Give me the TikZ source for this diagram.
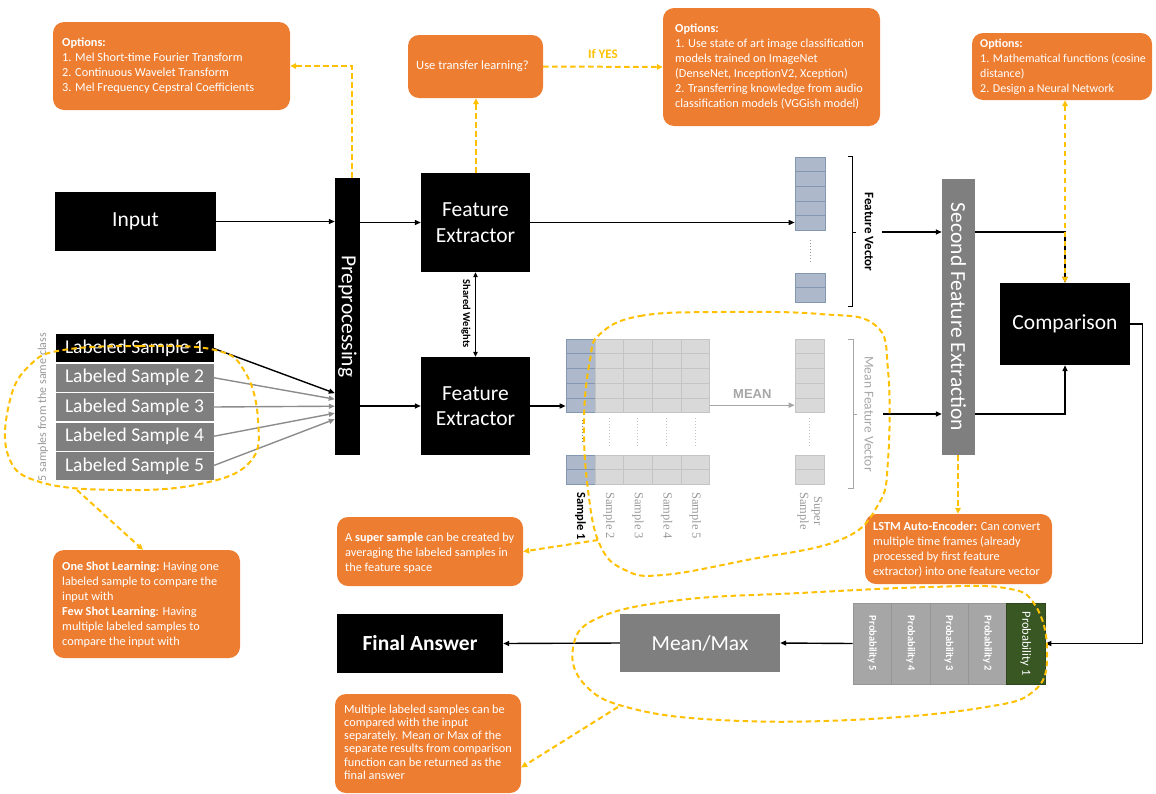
\documentclass[tikz,border=0pt]{standalone}
\usepackage{fontspec}
\setmainfont{Carlito}
\newfontfamily\serifsample{Liberation Serif}
\newfontfamily\arialfont{Liberation Sans}
\usetikzlibrary{arrows.meta,calc}
\definecolor{orng}{HTML}{ED7D31}
\definecolor{yel}{HTML}{FFC000}
\definecolor{dgray}{HTML}{7F7F7F}
\definecolor{bcell}{HTML}{ADB9CA}
\definecolor{bcelld}{HTML}{8497B0}
\definecolor{lcell}{HTML}{D9D9D9}
\definecolor{lcelld}{HTML}{C4C4C4}
\definecolor{pgray}{HTML}{A6A6A6}
\definecolor{pgrayd}{HTML}{969696}
\definecolor{dgreen}{HTML}{385723}
\definecolor{sgray}{HTML}{999999}
\definecolor{agray}{HTML}{8C8C8C}
\begin{document}
\begin{tikzpicture}[x=1pt,y=-1pt,
  obox/.style={fill=orng, rounded corners=11pt, inner sep=0pt, draw=none},
  otext/.style={text=white, align=left, inner sep=0pt, anchor=west, font=\fontsize{12.3}{15}\selectfont},
  bbox/.style={fill=black, text=white, inner sep=0pt, align=center, font=\fontsize{21.5}{25.5}\selectfont},
  gbox/.style={bbox, fill=dgray},
  bigtext/.style={text=white, inner sep=0pt, font=\fontsize{21.5}{25.5}\selectfont},
  arr/.style={-{Triangle[length=6pt,width=5pt]}, line width=1.4pt},
  garr/.style={arr, draw=agray},
  ydash/.style={draw=yel, line width=2pt, dash pattern=on 5.5pt off 3.5pt},
  yarr/.style={-{Triangle[length=6pt,width=5.5pt]}},
  cellb/.style={fill=bcell, draw=bcelld, line width=0.6pt, minimum width=29pt, minimum height=14.7pt, inner sep=0pt},
  celll/.style={fill=lcell, draw=lcelld, line width=0.6pt, minimum width=28.7pt, minimum height=14.7pt, inner sep=0pt},
  lsbox/.style={fill=dgray, draw=white, line width=1pt, text=white, minimum width=159pt, minimum height=29pt, inner sep=0pt, font=\fontsize{19.5}{22}\selectfont},
  pcell/.style={fill=pgray, draw=pgrayd, line width=0.6pt, minimum width=38.4pt, minimum height=81pt, inner sep=0pt},
  ptext/.style={rotate=-90, text=white, inner sep=0pt, font=\bfseries\fontsize{10.5}{12}\selectfont},
  slab/.style={rotate=-90, anchor=west, inner sep=0pt, text=sgray, font=\serifsample\fontsize{12.5}{14}\selectfont},
]
\useasboundingbox (0,0) rectangle (1156,793);

% ---------- orange boxes ----------
\node[obox, minimum width=237pt, minimum height=88pt] (opt1) at (171.5,66) {};
\node[otext] (opt1t) at (62,66) {\textbf{Options:}\\1. Mel Short-time Fourier Transform\\2. Continuous Wavelet Transform\\3. Mel Frequency Cepstral Coefficients};

\node[obox, minimum width=135pt, minimum height=63pt] (tl) at (475.5,66.5) {};
\node[otext, font=\fontsize{12.6}{15}\selectfont] (tlt) at (416,66.5) {Use transfer learning?};

\node[obox, minimum width=217pt, minimum height=118pt] (opt2) at (771.5,67) {};
\node[otext] (opt2t) at (675,67) {\textbf{Options:}\\1. Use state of art image classification\\models trained on ImageNet\\(DenseNet, InceptionV2, Xception)\\2. Transferring knowledge from audio\\classification models (VGGish model)};

\node[obox, minimum width=180pt, minimum height=67pt] (opt3) at (1062,66.5) {};
\node[otext, font=\fontsize{12}{15}\selectfont] (opt3t) at (980,66.5) {\textbf{Options:}\\1. Mathematical functions (cosine\\distance)\\2. Design a Neural Network};

\node[obox, minimum width=187pt, minimum height=108pt] (osl) at (146.5,604) {};
\node[otext] (oslt) at (62,605) {\textbf{One Shot Learning:} Having one\\labeled sample to compare the\\input with\\\textbf{Few Shot Learning}: Having\\multiple labeled samples to\\compare the input with};

\node[obox, minimum width=186pt, minimum height=69pt] (sup) at (430,551.5) {};
\node[otext] (supt) at (345,553) {A \textbf{super sample} can be created by\\averaging the labeled samples in\\the feature space};

\node[obox, minimum width=187pt, minimum height=70pt] (lstm) at (958.5,549) {};
\node[otext] (lstmt) at (873,550) {\textbf{LSTM Auto-Encoder:} Can convert\\multiple time frames (already\\processed by first feature\\extractor) into one feature vector};

\node[obox, minimum width=186pt, minimum height=99pt] (multi) at (428,743.5) {};
\node[otext, font=\fontsize{12.3}{13.2}\selectfont] (multit) at (344,742) {Multiple labeled samples can be\\compared with the input\\separately. Mean or Max of the\\separate results from comparison\\function can be returned as the\\final answer};

% ---------- main blocks ----------
\node[bbox, minimum width=161pt, minimum height=59pt] (inp) at (135.5,221.5) {Input};
\node[bbox, minimum width=25pt, minimum height=277pt] (pre) at (347.5,316.5) {};
\node[bigtext, rotate=-90] (pret) at (pre) {Preprocessing};
\node[bbox, minimum width=109pt, minimum height=99pt] (fe1) at (475.5,222.5) {Feature\\Extractor};
\node[bbox, minimum width=109pt, minimum height=98pt] (fe2) at (475.5,406) {Feature\\Extractor};
\node[gbox, minimum width=33pt, minimum height=276pt] (sfe) at (958.5,317) {};
\node[bigtext, rotate=-90] (sfet) at (sfe) {Second Feature Extraction};
\node[bbox, minimum width=130pt, minimum height=82pt] (cmp) at (1065,324) {Comparison};
\node[gbox, minimum width=160pt, minimum height=58pt] (mm) at (700,643) {Mean/Max};
\node[bbox, minimum width=166pt, minimum height=59pt, font=\bfseries\fontsize{21.5}{25.5}\selectfont] (fa) at (420,643.5) {Final Answer};

% labeled samples
\node[lsbox, fill=black] (ls1) at (134.5,348) {Labeled Sample 1};
\node[lsbox] (ls2) at (134.5,377.5) {Labeled Sample 2};
\node[lsbox] (ls3) at (134.5,407) {Labeled Sample 3};
\node[lsbox] (ls4) at (134.5,436.5) {Labeled Sample 4};
\node[lsbox] (ls5) at (134.5,466) {Labeled Sample 5};
\node[rotate=90, text=sgray, inner sep=0pt, font=\fontsize{12}{14}\selectfont] (fivel) at (43,407) {5 samples from the same class};

% feature vector (top)
\foreach \r/\y in {1/164.3,2/178.9,3/193.5,4/208.1,5/222.7,6/280.3,7/294.9}
  \node[cellb, minimum width=30pt, minimum height=14.6pt] (fv-\r) at (810,\y) {};
\draw[dotted, line width=1pt, draw=sgray] (810,240) -- (810,262);
\draw[line width=1pt] (848,156) -- (852,156) -- (852,306) -- (848,306);
\draw[line width=1pt] (852,232) -- (856,232);
\node[rotate=-90, inner sep=0pt, font=\bfseries\fontsize{13}{15}\selectfont] (fvl) at (869,232) {Feature Vector};

% sample matrix
\foreach \r/\y in {1/346.4,2/361.1,3/375.8,4/390.5,5/405.2,6/462.3,7/477.0} {
  \node[cellb] (m1-\r) at (580.5,\y) {};
  \foreach \c/\x in {2/609.2,3/637.9,4/666.6,5/695.3}
    \node[celll] (m\c-\r) at (\x,\y) {};
  \node[celll, minimum width=29pt] (ss-\r) at (809.5,\y) {};
}
\foreach \x in {609.2,637.9,666.6,695.3,809.5}
  \draw[dotted, line width=1pt, draw=lcelld] (\x,418) -- (\x,447);
\draw[dotted, line width=1pt, draw=dgray] (582,420) -- (582,443);
\draw[line width=1pt, draw=pgray] (848,339) -- (853,339) -- (853,488) -- (848,488);
\draw[line width=1pt, draw=pgray] (853,414) -- (857,414);
\node[rotate=-90, inner sep=0pt, text=pgray, font=\fontsize{13.5}{15}\selectfont] (mfvl) at (869,414) {Mean Feature Vector};

\node[slab, text=black, font=\bfseries\fontsize{12.5}{14}\selectfont] (sl1) at (580.5,492) {Sample 1};
\node[slab] (sl2) at (609.2,492) {Sample 2};
\node[slab] (sl3) at (637.9,492) {Sample 3};
\node[slab] (sl4) at (666.6,492) {Sample 4};
\node[slab] (sl5) at (695.3,492) {Sample 5};
\node[slab, align=center] (sls) at (810,492) {Super\\Sample};

% probabilities
\node[pcell] (p5) at (872.2,643.5) {};
\node[pcell] (p4) at (910.6,643.5) {};
\node[pcell] (p3) at (949.0,643.5) {};
\node[pcell] (p2) at (987.4,643.5) {};
\node[pcell, fill=dgreen, draw=dgreen!80!black] (p1) at (1025.8,643.5) {};
\node[ptext] (p5t) at (p5) {Probability 5};
\node[ptext] (p4t) at (p4) {Probability 4};
\node[ptext] (p3t) at (p3) {Probability 3};
\node[ptext] (p2t) at (p2) {Probability 2};
\node[ptext, font=\fontsize{12.5}{14}\selectfont] (p1t) at (p1) {Probability 1};

% ---------- black connectors ----------
\draw[arr] (inp.east) -- (pre.west |- inp.east);
\draw[arr] (pre.east |- fe1.west) -- (fe1.west);
\draw[arr] (pre.east |- fe2.west) -- (fe2.west);
\draw[{Triangle[length=5pt,width=4.5pt]}-{Triangle[length=5pt,width=4.5pt]}, line width=1pt] (fe1.south) -- (fe2.north);
\node[rotate=-90, inner sep=0pt, font=\bfseries\fontsize{10.5}{12}\selectfont] (swl) at (466,314) {Shared Weights};

\draw[arr] ($(ls1.east)+(-2,0)$) -- ($(pre.south west)+(0,-62)$);
\draw[garr] ($(ls2.east)+(-2,0)$) -- ($(pre.south west)+(0,-56)$);
\draw[garr] ($(ls3.east)+(-2,0)$) -- ($(pre.south west)+(0,-49)$);
\draw[garr] ($(ls4.east)+(-2,0)$) -- ($(pre.south west)+(0,-42)$);
\draw[garr] ($(ls5.east)+(-2,0)$) -- ($(pre.south west)+(0,-36)$);

\draw[arr] (fe1.east) -- (fe1.east -| fv-5.west);
\draw[arr] (fe2.east) -- (fe2.east -| m1-5.west);
\draw[garr, draw=pgray] (m5-5.east) -- (ss-5.west) node[midway, above=3pt, text=pgray, font=\arialfont\bfseries\fontsize{13}{15}\selectfont] (meanl) {MEAN};

\coordinate (fva) at (882,232);
\coordinate (mfa) at (883,414);
\draw[arr] (fva) -- (sfe.west |- fva);
\draw[arr] (mfa) -- (sfe.west |- mfa);
\draw[arr] (sfe.east |- fva) -| (cmp.north);
\draw[arr] (sfe.east |- mfa) -| (cmp.south);
\draw[arr] (cmp.east) -- ++(12,0) |- (p1.east);
\draw[arr] (p5.west) -- (mm.east);
\draw[arr] (mm.west) -- (fa.east);

% ---------- yellow dashed connectors ----------
\draw[ydash, yarr] ([xshift=4.5pt]pre.north) |- (opt1.east);
\draw[ydash, yarr] ([xshift=0.5pt]fe1.north) -- ([xshift=0.5pt]tl.south);
\draw[ydash, yarr] (tl.east) -- node[above=4pt, text=yel, font=\bfseries\fontsize{13}{15}\selectfont] (ifyes) {If YES} (opt2.west);
\draw[ydash, {Triangle[length=6pt,width=5.5pt]}-{Triangle[length=6pt,width=5.5pt]}] (cmp.north |- opt3.south) -- (cmp.north);
\draw[ydash, yarr] ([xshift=-0.5pt]sfe.south) -- ([xshift=-0.5pt]lstm.north);

% blobs
\draw[ydash] plot[smooth cycle, tension=0.7] coordinates {(63,350) (140,346) (215,350) (245,372) (258,420) (250,462) (200,484) (120,490) (40,482) (8,455) (10,400) (30,365)};
\draw[ydash] plot[smooth cycle, tension=0.7] coordinates {(600,334) (640,316) (720,312) (820,314) (875,325) (888,370) (888,460) (878,505) (840,540) (747,560) (663,575) (625,570) (600,545) (588,490) (584,420) (590,360)};
\draw[ydash] plot[smooth cycle, tension=0.7] coordinates {(573,648) (598,618) (680,600) (800,593) (930,587) (1005,588) (1035,605) (1047,650) (1035,690) (980,708) (850,720) (720,720) (630,708) (585,685)};

\coordinate (b1p) at (77,490);
\coordinate (b2p) at (598,540);
\coordinate (b3p) at (618,707);
\draw[ydash, yarr] (b1p) -- ([xshift=-3.5pt]osl.north);
\draw[ydash, yarr] (b2p) -- (sup.east);
\draw[ydash, yarr] (b3p) -- ([yshift=-24pt]multi.east);
\end{tikzpicture}
\end{document}
